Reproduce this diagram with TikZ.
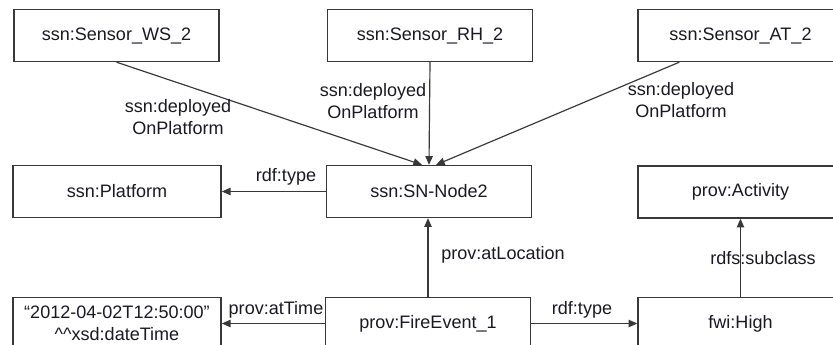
\documentclass[tikz,border=0pt]{standalone}
\usepackage{fontspec}
\setmainfont{Liberation Sans}
\usetikzlibrary{arrows.meta,calc}
\definecolor{lineC}{rgb}{0.22,0.22,0.22}
\definecolor{textC}{rgb}{0.10,0.10,0.14}

\begin{document}
\begin{tikzpicture}[x=0.03cm, y=-0.03cm, >={Triangle[length=2.6mm,width=2.2mm]},
  box/.style={draw=lineC, line width=1.15pt, minimum width=6.15cm, minimum height=1.56cm,
    inner sep=0pt, align=center, text=textC, font=\fontsize{15.4}{18.6}\selectfont},
  lbl/.style={inner sep=0pt, align=center, text=textC, font=\fontsize{15.4}{18.6}\selectfont},
  link/.style={draw=lineC, line width=1pt, ->}]
\useasboundingbox (0,0) rectangle (833,345);
\clip (0,0) rectangle (833,345);
% Sensoren
\node[box] (ws) at (116.5,35.5) {ssn:Sensor\_WS\_2};
\node[box] (rh) at (430,35.5) {ssn:Sensor\_RH\_2};
\node[box] (at) at (740.5,35.5) {ssn:Sensor\_AT\_2};
% mittlere Reihe
\node[box, minimum width=6.25cm] (platform) at (117,191.5) {ssn:Platform};
\node[box] (sn) at (429,191.5) {ssn:SN-Node2};
\node[box] (activity) at (740.5,192) {prov:Activity};
% untere Reihe
\node[box, minimum width=6.25cm] (time) at (117,323.5)
  {“2012-04-02T12:50:00”\\\textasciicircum\textasciicircum xsd:dateTime};
\node[box] (fire) at (428,323.5) {prov:FireEvent\_1};
\node[box] (high) at (740.5,323.5) {fwi:High};
% Kanten
\draw[link] (ws.south) -- ($(sn.north)+(-7,0)$);
\draw[link] (rh.south) -- (sn.north);
\draw[link] ($(at.south west)+(42,0)$) -- ($(sn.north)+(7,0)$);
\draw[link] (sn.west) -- (platform.east);
\draw[link] (fire.north) -- (fire.north |- sn.south);
\draw[link] (fire.west) -- (time.east);
\draw[link] (fire.east) -- (high.west);
\draw[link] (high.north) -- (high.north |- activity.south);
% Kantenbeschriftungen
\node[lbl] (lws) at (178,117) {ssn:deployed\\OnPlatform};
\node[lbl] (lrh) at (373,101) {ssn:deployed\\OnPlatform};
\node[lbl] (lat) at (681,100) {ssn:deployed\\OnPlatform};
\node[lbl] (ltype) at (286,176.5) {rdf:type};
\node[lbl] (lloc) at (503,255) {prov:atLocation};
\node[lbl] (ltime) at (276,310) {prov:atTime};
\node[lbl] (lhigh) at (582,310) {rdf:type};
\node[lbl] (lsub) at (763,258) {rdfs:subclass};
\end{tikzpicture}
\end{document}
